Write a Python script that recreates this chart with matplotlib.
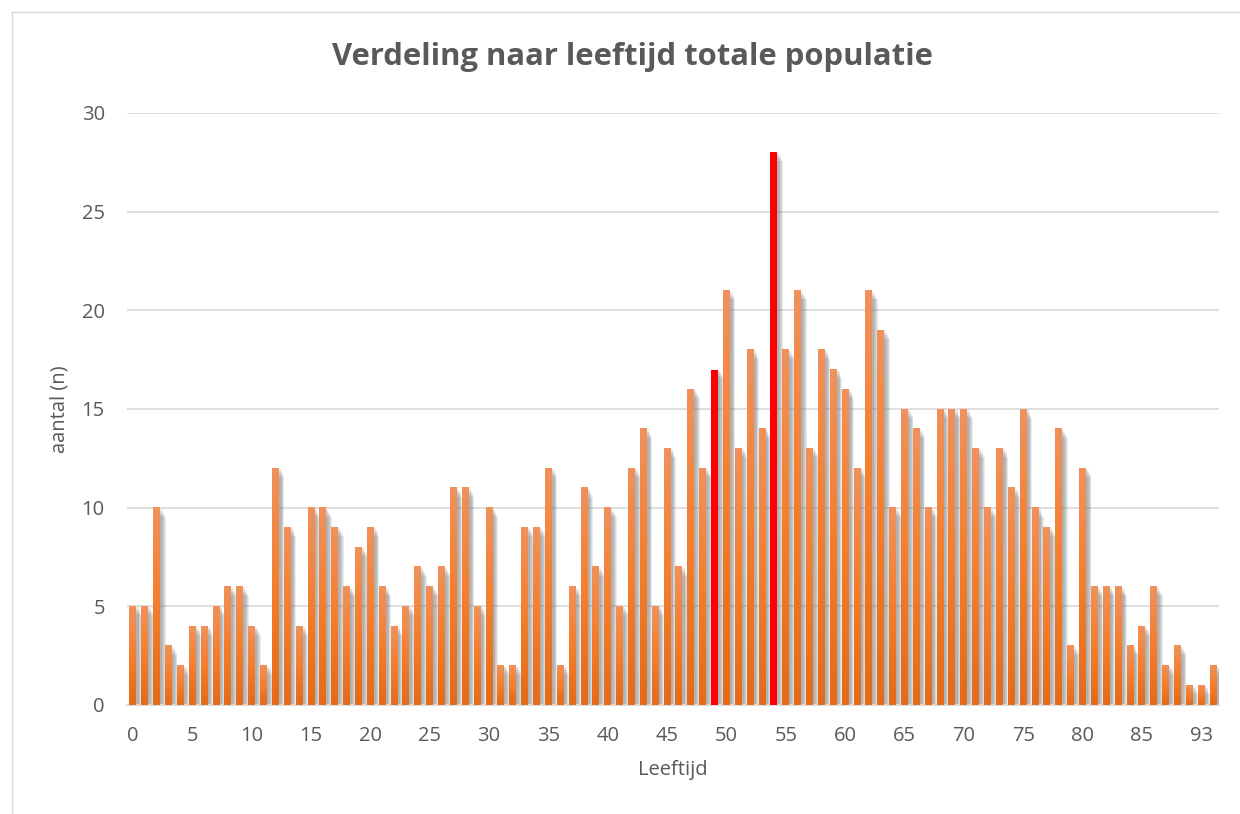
import numpy as np
import matplotlib.pyplot as plt
from matplotlib.colors import LinearSegmentedColormap
from matplotlib.patches import Rectangle
from matplotlib.lines import Line2D

plt.rcParams['font.family'] = ['Open Sans', 'DejaVu Sans']

# leeftijden (categorieen) en aantallen
ages = list(range(89)) + [90, 93, 95]
counts = [5, 5, 10, 3, 2, 4, 4, 5, 6, 6, 4, 2, 12, 9, 4, 10, 10, 9, 6, 8, 9, 6, 4,
          5, 7, 6, 7, 11, 11, 5, 10, 2, 2, 9, 9, 12, 2, 6, 11, 7, 10, 5, 12, 14, 5,
          13, 7, 16, 12, 17, 21, 13, 18, 14, 28, 18, 21, 13, 18, 17, 16, 12, 21, 19,
          10, 15, 14, 10, 15, 15, 15, 13, 10, 13, 11, 15, 10, 9, 14, 3, 12, 6, 6, 6,
          3, 4, 6, 2, 3, 1, 1, 2]
highlight_ages = [49, 54]
yticks = [0, 5, 10, 15, 20, 25, 30]

txt_col = '#595959'
grid_col = '#D9D9D9'
orange = LinearSegmentedColormap.from_list('bar', ['#E36B19', '#F47E2D', '#F0915B'])

fig = plt.figure(figsize=(12.4, 8.14), dpi=100)
ax = fig.add_axes([127 / 1240, 109 / 814, 1092 / 1240, 592 / 814])

w = 0.58
grad = np.linspace(0, 1, 64).reshape(-1, 1)
for i, (age, n) in enumerate(zip(ages, counts)):
    # vage schaduw rechts van de balk
    for k in range(5):
        ax.add_patch(Rectangle((i - w / 2 + 0.08, 0), w + 0.1 + 0.07 * k, n - 0.05 - 0.1 * k,
                               color='#777777', alpha=0.15, lw=0, zorder=1))
    if age in highlight_ages:
        ax.add_patch(Rectangle((i - w / 2, 0), w, n, color='#FF0000', lw=0, zorder=3))
    else:
        ax.imshow(grad, extent=[i - w / 2, i + w / 2, 0, n], origin='lower',
                  cmap=orange, aspect='auto', zorder=3, interpolation='bilinear')

ax.set_xlim(-0.5, len(ages) - 0.5)
ax.set_ylim(0, 30)
ax.set_yticks(yticks)
ax.set_yticklabels([str(v) for v in yticks])
tick_idx = list(range(0, len(ages), 5))
ax.set_xticks(tick_idx)
ax.set_xticklabels([str(ages[i]) for i in tick_idx])
ax.tick_params(length=0, labelsize=14.5, colors=txt_col)
ax.tick_params(axis='y', pad=16)
ax.tick_params(axis='x', pad=15)
ax.yaxis.grid(True, color=grid_col, lw=1.2, zorder=0)
ax.set_axisbelow(True)
for s in ['top', 'right', 'left']:
    ax.spines[s].set_visible(False)
ax.spines['bottom'].set_color(grid_col)
ax.spines['bottom'].set_linewidth(1.5)
ax.spines['bottom'].set_zorder(2)

ax.set_xlabel('Leeftijd', fontsize=14.5, color=txt_col, labelpad=10)
ax.set_ylabel('aantal (n)', fontsize=14.5, color=txt_col, labelpad=9)

fig.text(632 / 1240, 1 - 57 / 814, 'Verdeling naar leeftijd totale populatie',
         ha='center', va='center', fontsize=22.3, fontweight='bold', color=txt_col)

# kader van de grafiek
fig.add_artist(Line2D([12 / 1240, 12 / 1240], [0, 1 - 12 / 814], transform=fig.transFigure,
                      color=grid_col, lw=1))
fig.add_artist(Line2D([12 / 1240, 1], [1 - 12 / 814, 1 - 12 / 814], transform=fig.transFigure,
                      color=grid_col, lw=1))

fig.savefig('out.png', dpi=100)
